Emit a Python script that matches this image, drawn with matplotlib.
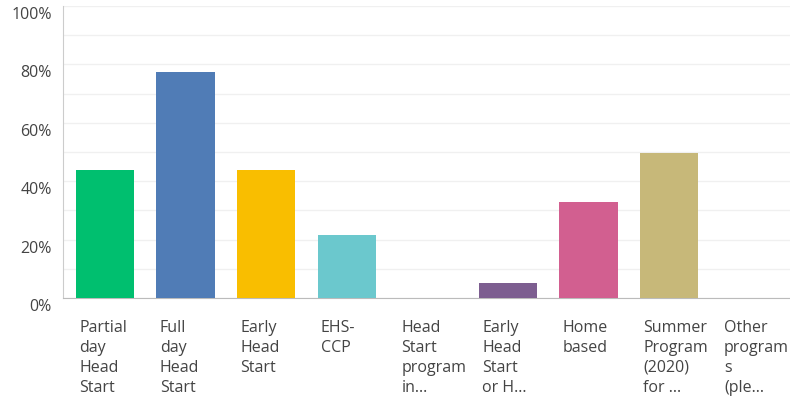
import matplotlib.pyplot as plt
import matplotlib.transforms as mtransforms

categories = [
    "Partial\nday\nHead\nStart",
    "Full\nday\nHead\nStart",
    "Early\nHead\nStart",
    "EHS-\nCCP",
    "Head\nStart\nprogram\nin...",
    "Early\nHead\nStart\nor H...",
    "Home\nbased",
    "Summer\nProgram\n(2020)\nfor ...",
    "Other\nprogram\ns\n(ple...",
]
values = [44.0, 77.5, 44.0, 21.5, 0.0, 5.0, 33.0, 49.5, 0.0]
colors = ["#00BF6F", "#507CB6", "#F9BE00", "#6BC8CD", "#A0A0A0",
          "#7D5E90", "#D25F90", "#C7B879", "#A0A0A0"]
yticks = [0, 20, 40, 60, 80, 100]

plt.rcParams['font.family'] = ['Open Sans', 'DejaVu Sans']

fig = plt.figure(figsize=(7.9, 4.02), dpi=100)
ax = fig.add_axes([63 / 790, 103 / 402, 1 - 63 / 790, 292 / 402])

x = list(range(len(categories)))
bar_w = 0.72
ax.bar(x, values, width=bar_w, color=colors, zorder=3)

ax.set_xlim(-0.52, 8.5)
ax.set_ylim(0, 100)
ax.set_yticks(yticks)
ax.set_yticks(range(10, 100, 20), minor=True)
ax.set_yticklabels([f"{t}%" for t in yticks], fontsize=11.5, color="#444444")
ax.grid(axis='y', which='both', color="#F0F0F0", linewidth=1, zorder=0)
ax.tick_params(axis='y', which='both', length=0, pad=8)
ax.set_xticks([])

shift = mtransforms.ScaledTranslation(0, -6 / 100, fig.dpi_scale_trans)
for lab in ax.get_yticklabels():
    lab.set_transform(lab.get_transform() + shift)

for s in ['top', 'right']:
    ax.spines[s].set_visible(False)
ax.spines['left'].set_color("#CCCCCC")
ax.spines['bottom'].set_color("#BBBBBB")

trans = mtransforms.blended_transform_factory(ax.transData, ax.transAxes)
for i, name in enumerate(categories):
    ax.text(i - bar_w / 2 + 0.04, -0.072, name, transform=trans,
            ha='left', va='top', fontsize=11.5, color="#444444",
            linespacing=1.33)

fig.savefig("out.png", dpi=100)
